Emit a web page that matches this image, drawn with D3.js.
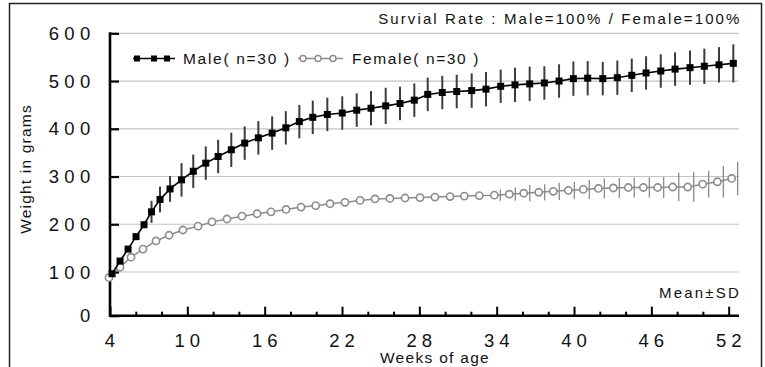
<!DOCTYPE html>
<html><head><meta charset="utf-8">
<script src="https://cdn.jsdelivr.net/npm/d3@7"></script>
<style>body{margin:0;background:#fff}svg{display:block;font-family:"Liberation Sans",Arial,sans-serif}</style>
</head><body><svg id="c" width="765" height="367"></svg>
<script>
const maleWeeks = [4.16,4.78,5.40,6.02,6.64,7.22,7.88,8.66,9.55,10.46,11.43,12.39,13.41,14.45,15.51,16.58,17.64,18.69,19.73,20.86,22.02,23.14,24.25,25.39,26.50,27.61,28.65,29.78,30.90,32.06,33.17,34.31,35.42,36.56,37.70,38.84,39.95,41.06,42.23,43.36,44.48,45.59,46.73,47.84,49.00,50.11,51.25,52.36];
const maleMean = [96,123,148,174,199,226,252,274,293,311,328,342,356,370,381,391,402,415,424,430,433,439,443,448,453,460,472,476,478,480,483,489,492,494,496,500,505,506,505,507,512,517,521,525,528,531,534,537];
const maleSD = [2,4,5,6,7,23,27,27,35,35,35,35,36,35,35,35,35,35,35,35,35,35,36,38,35,35,35,35,35,36,36,35,36,36,35,35,36,36,35,36,35,35,35,35,36,37,37,40];
const femaleWeeks = [3.92,4.78,5.63,6.56,7.57,8.58,9.66,10.83,11.91,13.08,14.24,15.41,16.49,17.66,18.82,19.96,21.07,22.23,23.40,24.56,25.72,26.89,28.05,29.21,30.38,31.49,32.65,33.82,34.98,36.10,37.26,38.39,39.56,40.72,41.89,43.05,44.21,45.38,46.49,47.66,48.82,49.98,51.12,52.23];
const femaleMean = [87,110,131,148,165,177,188,196,205,211,217,222,226,231,236,239,243,246,250,253,254,255,256,257,258,259,260,261,263,265,267,269,271,273,275,276,277,277,277,278,278,284,289,296];
const femaleSD = [0,0,0,0,0,0,0,0,0,0,0,0,0,0,0,0,0,0,0,0,0,0,0,0,0,0,0,12,14,17,17,18,18,20,21,21,21,21,22,30,31,28,33,35];
const xTicks = [4,10,16,22,28,34,40,46,52];
const xMinorTicks = [6,8,12,14,18,20,24,26,30,32,36,38,42,44,48,50];
const yTicks = [0,100,200,300,400,500,600];
const seriesNames = ["Male( n=30 )","Female( n=30 )"];

const svg = d3.select("#c");
const x = d3.scaleLinear().domain([4,52.8]).range([110,739]);
const y = d3.scaleLinear().domain([0,100,600]).range([315.7,272,33.3]);

// outer frame
svg.append("path").attr("d","M9.5,400V3.5H761.5V400").attr("fill","none").attr("stroke","#222").attr("stroke-width",1.5);

// grid lines
svg.append("g").selectAll("line").data(yTicks.filter(v=>v>0)).join("line")
  .attr("x1",110).attr("x2",739).attr("y1",d=>y(d)).attr("y2",d=>y(d))
  .attr("stroke","#c4c4c4").attr("stroke-width",1.2);

// y axis
const yAxis = d3.axisRight(y).tickValues(yTicks).tickSize(9).tickFormat("");
const gy = svg.append("g").attr("transform","translate(110,0)").call(yAxis);
gy.select(".domain").remove();
gy.selectAll(".tick line").attr("stroke","#000").attr("stroke-width",2.2);
svg.append("line").attr("x1",110).attr("x2",110).attr("y1",y(600)-1).attr("y2",y(0)+1.2).attr("stroke","#000").attr("stroke-width",2.6);
svg.append("g").selectAll("text").data(yTicks).join("text")
  .attr("x",95.5).attr("y",d=>y(d)).attr("dy","0.36em").attr("text-anchor","end")
  .attr("font-size",18.5).attr("letter-spacing",5.3).attr("fill","#111").text(d=>d);

// x axis
const xAxis = d3.axisTop(x).tickValues(xTicks).tickSize(9).tickFormat("");
const gx = svg.append("g").attr("transform",`translate(0,${y(0)})`).call(xAxis);
gx.select(".domain").remove();
gx.selectAll(".tick line").attr("stroke","#000").attr("stroke-width",2);
const xAxisMinor = d3.axisTop(x).tickValues(xMinorTicks).tickSize(4).tickFormat("");
const gxm = svg.append("g").attr("transform",`translate(0,${y(0)})`).call(xAxisMinor);
gxm.select(".domain").remove();
gxm.selectAll(".tick line").attr("stroke","#000").attr("stroke-width",2);
svg.append("line").attr("x1",109).attr("x2",739).attr("y1",y(0)).attr("y2",y(0)).attr("stroke","#000").attr("stroke-width",2.6);
svg.append("g").selectAll("text").data(xTicks).join("text")
  .attr("x",d=>x(d)+2.5).attr("y",346.5).attr("text-anchor","middle")
  .attr("font-size",18.5).attr("letter-spacing",5).attr("fill","#111").text(d=>d);

// axis titles
svg.append("text").attr("x",435).attr("y",363).attr("text-anchor","middle").attr("font-size",15.5)
  .attr("letter-spacing",1.3).attr("fill","#111").text("Weeks of age");
svg.append("text").attr("transform","translate(31,169) rotate(-90)").attr("text-anchor","middle")
  .attr("font-size",15.5).attr("letter-spacing",1.2).attr("fill","#111").text("Weight in grams");

// annotations
svg.append("text").attr("x",741.5).attr("y",24).attr("text-anchor","end").attr("font-size",15)
  .attr("letter-spacing",2.1).attr("fill","#111").text("Survial Rate : Male=100% / Female=100%");
svg.append("text").attr("x",741).attr("y",298).attr("text-anchor","end").attr("font-size",15)
  .attr("letter-spacing",2.2).attr("fill","#111").text("Mean\u00b1SD");

const male = maleWeeks.map((w,i)=>({w,m:maleMean[i],sd:maleSD[i]}));
const female = femaleWeeks.map((w,i)=>({w,m:femaleMean[i],sd:femaleSD[i]}));
const line = d3.line().x(d=>x(d.w)).y(d=>y(d.m));

// female
svg.append("g").selectAll("line").data(female.filter(d=>d.sd>0)).join("line")
  .attr("x1",d=>x(d.w)+6).attr("x2",d=>x(d.w)+6).attr("y1",d=>y(d.m-d.sd)).attr("y2",d=>y(d.m+d.sd))
  .attr("stroke","#8a8a8a").attr("stroke-width",1.3);
svg.append("path").datum(female).attr("d",line).attr("fill","none").attr("stroke","#8c8c8c").attr("stroke-width",1.5);
svg.append("g").selectAll("circle").data(female).join("circle")
  .attr("cx",d=>x(d.w)).attr("cy",d=>y(d.m)).attr("r",3.6)
  .attr("fill","#fff").attr("stroke","#8c8c8c").attr("stroke-width",1.6);

// male
svg.append("g").selectAll("line").data(male).join("line")
  .attr("x1",d=>x(d.w)).attr("x2",d=>x(d.w)).attr("y1",d=>y(d.m-d.sd)).attr("y2",d=>y(d.m+d.sd))
  .attr("stroke","#3c3c3c").attr("stroke-width",2);
svg.append("path").datum(male).attr("d",line).attr("fill","none").attr("stroke","#000").attr("stroke-width",1.6);
svg.append("g").selectAll("rect").data(male).join("rect")
  .attr("x",d=>x(d.w)-3.5).attr("y",d=>y(d.m)-3.5).attr("width",7).attr("height",7).attr("fill","#000");

// legend
const lg = svg.append("g");
lg.append("line").attr("x1",133).attr("x2",175).attr("y1",58.5).attr("y2",58.5).attr("stroke","#000").attr("stroke-width",1.6);
lg.selectAll("rect").data([137,154,167]).join("rect").attr("x",d=>d-3).attr("y",55.5).attr("width",6).attr("height",6).attr("fill","#000");
lg.append("text").attr("x",183).attr("y",64).attr("font-size",15.5).attr("letter-spacing",1.7).attr("fill","#111").text(seriesNames[0]);
lg.append("line").attr("x1",298).attr("x2",343).attr("y1",58.5).attr("y2",58.5).attr("stroke","#8c8c8c").attr("stroke-width",1.4);
lg.selectAll("circle").data([303,318,333]).join("circle").attr("cx",d=>d).attr("cy",58.5).attr("r",3)
  .attr("fill","#fff").attr("stroke","#8c8c8c").attr("stroke-width",1.4);
lg.append("text").attr("x",352).attr("y",64).attr("font-size",15.5).attr("letter-spacing",1.6).attr("fill","#111").text(seriesNames[1]);
</script>
</body></html>
